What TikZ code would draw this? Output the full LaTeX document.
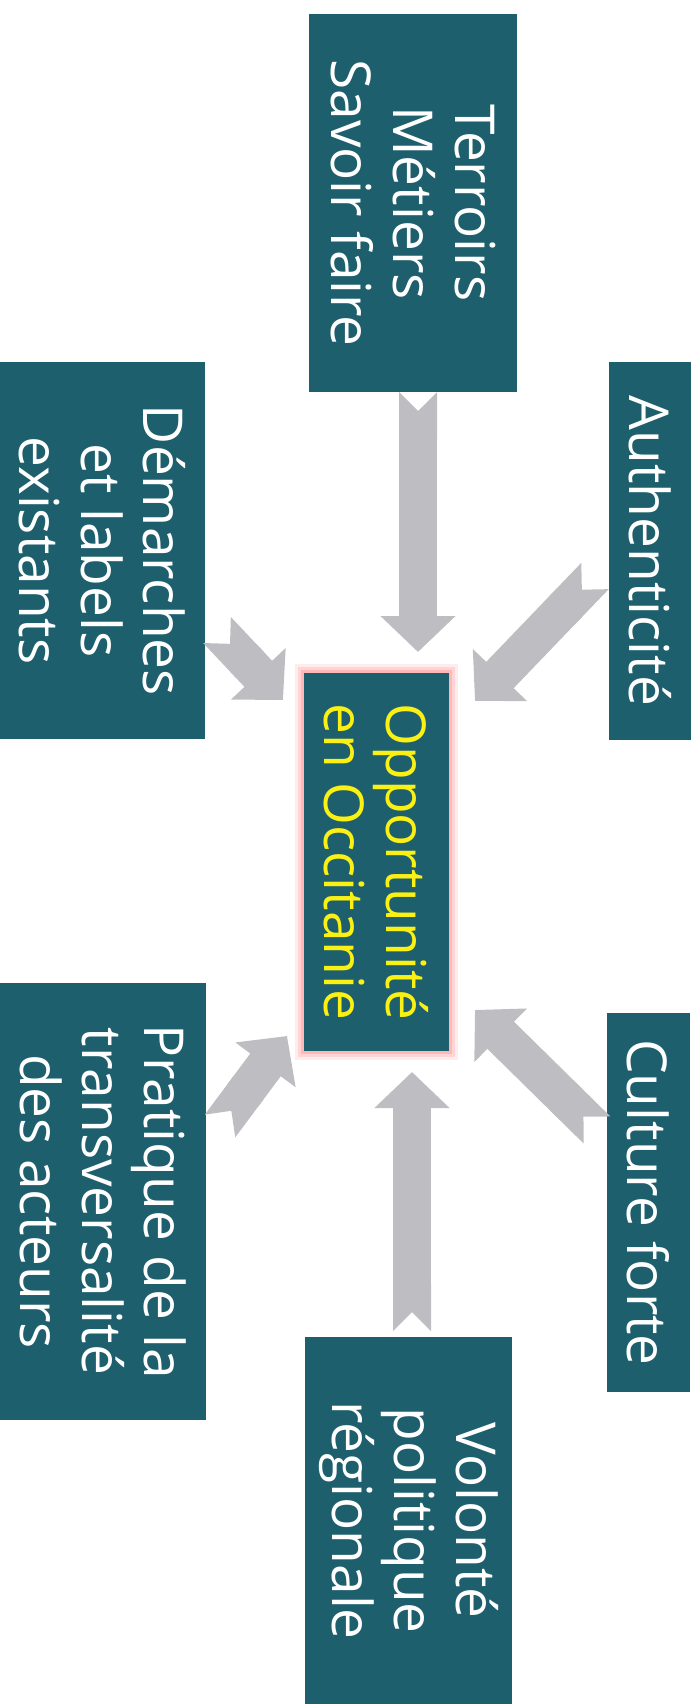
\documentclass[tikz,border=0pt]{standalone}
\usepackage{fontspec}
\setmainfont{Open Sans}
\usetikzlibrary{positioning, calc, arrows.meta}

\definecolor{boxteal}{RGB}{29,95,109}
\definecolor{arrowgrey}{RGB}{190,190,194}
\definecolor{hiyellow}{RGB}{250,240,20}

\tikzset{
	box/.style={rectangle, fill=boxteal, text=white, rotate=-90, align=center, inner sep=0pt, font=\fontsize{55}{62}\selectfont},
	glow/.style={preaction={draw=red!50, line width=18pt, opacity=.15},
		preaction={draw=red!50, line width=12pt, opacity=.22},
		preaction={draw=red!45, line width=6pt, opacity=.4}},
	bigarrow/.style={draw=arrowgrey, line width=38pt, {Triangle Cap[reversed]}-{Triangle[length=36pt, width=73pt]}},
}

\begin{document}
\begin{tikzpicture}[x=1pt, y=-1pt]
	\useasboundingbox (0,0) rectangle (700,1704);
	% centre
	\node[box, glow, text=hiyellow, minimum width=378pt, minimum height=145pt] (opport) at (376.5,862) {Opportunité\\en Occitanie};
	% boxes around
	\node[box, minimum width=378pt, minimum height=208pt] (terroirs) at (413,203) {Terroirs\\Métiers\\Savoir faire};
	\node[box, minimum width=378pt, minimum height=82pt] (authent) at (650,551) {Authenticité};
	\node[box, minimum width=377pt, minimum height=205pt] (demarches) at (102.5,550.5) {Démarches\\et labels\\existants};
	\node[box, minimum width=437pt, minimum height=206pt] (pratique) at (103,1201.5) {Pratique de la\\transversalité\\des acteurs};
	\node[box, minimum width=379pt, minimum height=83pt] (culture) at (648.5,1202.5) {Culture forte};
	\node[box, minimum width=367pt, minimum height=207pt] (volonte) at (408.5,1520.5) {Volonté\\politique\\régionale};
	% arrow tips
	\coordinate (tipT) at ($(opport.center)+(41.5,-210)$);
	\coordinate (tipA) at ($(opport.center)+(98.5,-161)$);
	\coordinate (tipD) at ($(opport.center)+(-93.5,-162)$);
	\coordinate (tipP) at ($(opport.center)+(-89.5,174)$);
	\coordinate (tipC) at ($(opport.center)+(98.5,148)$);
	\coordinate (tipV) at ($(opport.center)+(35.5,210)$);
	% arrows
	\draw[bigarrow] ($(terroirs.center)+(5,189)$) -- (tipT);
	\draw[bigarrow] ($(authent.center)+(-55,25)$) -- (tipA);
	\draw[bigarrow] ($(demarches.center)+(114.5,79.5)$) -- (tipD);
	\draw[bigarrow] ($(pratique.center)+(117,-75.5)$) -- (tipP);
	\draw[bigarrow] ($(culture.center)+(-51.5,-72.5)$) -- (tipC);
	\draw[bigarrow] ($(volonte.center)+(3.5,-189.5)$) -- (tipV);
\end{tikzpicture}
\end{document}
